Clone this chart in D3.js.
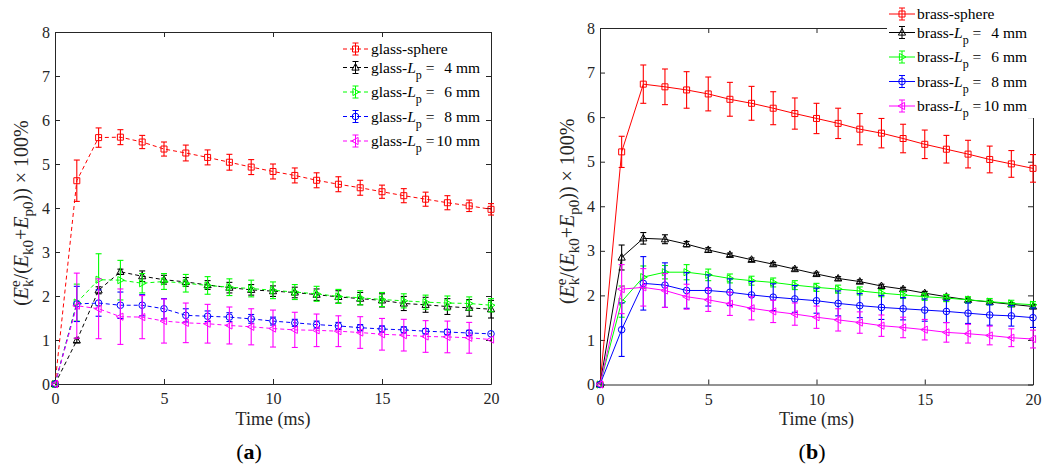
<!DOCTYPE html>
<html><head><meta charset="utf-8">
<script src="https://cdn.jsdelivr.net/npm/d3@7/dist/d3.min.js"></script>
<style>
body{margin:0;background:#fff}
svg{display:block;font-family:"Liberation Serif","Times New Roman",serif}
</style>
</head><body>
<svg id="c" width="1052" height="472"></svg>
<script>
// ---------------- DATA ----------------
const time = [0,1,2,3,4,5,6,7,8,9,10,11,12,13,14,15,16,17,18,19,20];
const xTicks = [0,5,10,15,20];
const yTicks = [0,1,2,3,4,5,6,7,8];

// (a) glass
const glassSphere    = [0,4.62,5.60,5.61,5.50,5.34,5.25,5.15,5.04,4.93,4.83,4.74,4.63,4.54,4.46,4.37,4.28,4.20,4.12,4.05,3.97];
const glassSphereErr = [0,0.47,0.22,0.17,0.15,0.16,0.18,0.17,0.18,0.17,0.17,0.17,0.17,0.17,0.17,0.15,0.16,0.16,0.16,0.13,0.13];
const glass4    = [0,0.99,2.13,2.55,2.45,2.37,2.32,2.25,2.19,2.14,2.11,2.08,2.03,1.98,1.94,1.90,1.83,1.80,1.76,1.73,1.70];
const glass4Err = [0,0.05,0.08,0.06,0.12,0.10,0.10,0.10,0.12,0.12,0.12,0.12,0.13,0.14,0.14,0.15,0.16,0.17,0.18,0.19,0.20];
const glass6    = [0,1.85,2.37,2.36,2.29,2.33,2.29,2.24,2.20,2.17,2.13,2.09,2.05,1.99,1.96,1.92,1.89,1.86,1.84,1.83,1.79];
const glass6Err = [0,0.42,0.59,0.45,0.22,0.18,0.20,0.20,0.19,0.19,0.19,0.17,0.17,0.16,0.16,0.16,0.16,0.16,0.16,0.15,0.15];
const glass8    = [0,1.82,1.84,1.79,1.79,1.71,1.56,1.54,1.52,1.48,1.43,1.39,1.35,1.32,1.28,1.25,1.23,1.20,1.18,1.16,1.14];
const glass8Err = [0,0.40,0.30,0.30,0.24,0.23,0.15,0.12,0.10,0.10,0.09,0.08,0.08,0.08,0.07,0.07,0.07,0.06,0.06,0.06,0];
const glass10    = [0,1.78,1.71,1.53,1.52,1.43,1.39,1.37,1.33,1.30,1.26,1.23,1.22,1.20,1.17,1.13,1.11,1.08,1.07,1.05,1.01];
const glass10Err = [0,0.74,0.68,0.63,0.49,0.50,0.45,0.44,0.42,0.41,0.42,0.40,0.37,0.35,0.36,0.36,0.36,0.36,0.36,0.35,0];

// (b) brass
const brassSphere    = [0,5.22,6.74,6.68,6.61,6.52,6.40,6.31,6.20,6.08,5.97,5.86,5.73,5.64,5.52,5.39,5.28,5.17,5.05,4.95,4.85];
const brassSphereErr = [0,0.35,0.43,0.40,0.41,0.38,0.38,0.38,0.37,0.35,0.34,0.34,0.35,0.33,0.32,0.32,0.31,0.31,0.30,0.30,0.31];
const brass4    = [0,2.85,3.28,3.26,3.15,3.02,2.91,2.80,2.70,2.59,2.48,2.38,2.31,2.21,2.14,2.05,1.97,1.90,1.85,1.80,1.75];
const brass4Err = [0,0.28,0.13,0.10,0.06,0.05,0.04,0.04,0.04,0.04,0.04,0.04,0.04,0.04,0.04,0.04,0.04,0.04,0.04,0.04,0.04];
const brass6    = [0,1.86,2.41,2.52,2.52,2.46,2.38,2.33,2.29,2.23,2.18,2.14,2.10,2.05,2.01,1.97,1.94,1.90,1.86,1.82,1.79];
const brass6Err = [0,0.35,0.25,0.15,0.17,0.13,0.10,0.10,0.10,0.10,0.09,0.09,0.09,0.08,0.08,0.08,0.08,0.07,0.07,0.07,0.07];
const brass8    = [0,1.23,2.27,2.23,2.11,2.11,2.07,2.01,1.96,1.92,1.88,1.82,1.77,1.73,1.70,1.67,1.64,1.60,1.56,1.54,1.50];
const brass8Err = [0,0.60,0.60,0.50,0.40,0.35,0.30,0.30,0.30,0.30,0.28,0.28,0.27,0.27,0.25,0.25,0.25,0.23,0.23,0.23,0.22];
const brass10    = [0,2.14,2.18,2.11,1.97,1.90,1.81,1.71,1.64,1.58,1.51,1.45,1.39,1.32,1.28,1.23,1.17,1.14,1.10,1.05,1.02];
const brass10Err = [0,0.55,0.42,0.38,0.28,0.26,0.26,0.26,0.25,0.25,0.25,0.25,0.24,0.24,0.23,0.23,0.22,0.21,0.21,0.20,0.20];

const seriesColors = ["#ff0000","#000000","#00ff00","#0000ff","#ff00ff"];
const markerShapes = ["square","triUp","triRight","circle","triLeft"];
const lpValues = ["4 mm","6 mm","8 mm","10 mm"];
const xLabel = "Time (ms)";

// ---------------- DRAWING ----------------
const svg = d3.select("#c");
const AX = "#262626";

function markerPath(shape){
  switch(shape){
    case "square": return "M-3,-3h6v6h-6Z";
    case "triUp": return "M0,-4L3.6,2.6L-3.6,2.6Z";
    case "triRight": return "M4,0L-2.6,-3.6L-2.6,3.6Z";
    case "triLeft": return "M-4,0L2.6,-3.6L2.6,3.6Z";
    case "circle": return "M3.3,0A3.3,3.3 0 1,1 -3.3,0A3.3,3.3 0 1,1 3.3,0Z";
  }
}

function richText(parent, pieces){
  const t = parent.append("text");
  let cur = 0, pendingDx = 0;
  pieces.forEach(p=>{
    const ts = t.append("tspan").text(p.t);
    const off = p.off || 0;
    if (off !== cur) ts.attr("dy", off - cur);
    cur = off;
    if (p.size) ts.attr("font-size", p.size);
    if (p.it) ts.attr("font-style","italic");
    if (pendingDx) ts.attr("dx", pendingDx);
    pendingDx = 0;
    if (p.stack) pendingDx = -ts.node().getComputedTextLength();
  });
  return t;
}

function panel(cfg){
  const x = d3.scaleLinear().domain([0,20]).range([cfg.x0,cfg.x1]);
  const y = d3.scaleLinear().domain([0,8]).range([cfg.y0,cfg.y1]);
  const g = svg.append("g");

  const styleAxis = (sel)=>{
    sel.select(".domain").attr("stroke",AX).attr("stroke-width",1);
    sel.selectAll(".tick line").attr("stroke",AX);
    sel.selectAll(".tick text").attr("fill",AX).attr("font-size",16)
       .attr("font-family","'Liberation Serif','Times New Roman',serif");
  };
  g.append("g").attr("transform",`translate(0,${cfg.y0})`)
    .call(d3.axisBottom(x).tickValues(xTicks).tickSizeInner(-5).tickSizeOuter(0).tickPadding(9))
    .call(styleAxis);
  g.append("g").attr("transform",`translate(0,${cfg.y1})`)
    .call(d3.axisTop(x).tickValues(xTicks).tickSizeInner(-5).tickSizeOuter(0).tickFormat(""))
    .call(styleAxis);
  g.append("g").attr("transform",`translate(${cfg.x0},0)`)
    .call(d3.axisLeft(y).tickValues(yTicks).tickSizeInner(-5).tickSizeOuter(0).tickPadding(5))
    .call(styleAxis);
  g.append("g").attr("transform",`translate(${cfg.x1},0)`)
    .call(d3.axisRight(y).tickValues(yTicks).tickSizeInner(-5).tickSizeOuter(0).tickFormat(""))
    .call(styleAxis);

  const line = d3.line().x((d,i)=>x(time[i])).y(d=>y(d));
  cfg.series.forEach((s,k)=>{
    const col = seriesColors[k];
    const sg = g.append("g");
    sg.append("path").attr("d", line(s.v)).attr("fill","none").attr("stroke",col)
      .attr("stroke-width",1).attr("stroke-dasharray", cfg.dash || null);
    const eb = sg.append("g").attr("stroke",col).attr("stroke-width",1.1);
    s.v.forEach((v,i)=>{
      const e = s.e[i];
      if (!e) return;
      const cx = x(time[i]), yt = y(v+e), yb = y(v-e);
      eb.append("line").attr("x1",cx).attr("x2",cx).attr("y1",yt).attr("y2",yb);
      eb.append("line").attr("x1",cx-3).attr("x2",cx+3).attr("y1",yt).attr("y2",yt);
      eb.append("line").attr("x1",cx-3).attr("x2",cx+3).attr("y1",yb).attr("y2",yb);
    });
    sg.selectAll("path.mk").data(s.v).enter().append("path").attr("class","mk")
      .attr("d", markerPath(markerShapes[k]))
      .attr("transform",(d,i)=>`translate(${x(time[i])},${y(d)})`)
      .attr("fill","none").attr("stroke",col).attr("stroke-width",1);
  });

  g.append("text").attr("x",(cfg.x0+cfg.x1)/2).attr("y",425).attr("text-anchor","middle")
    .attr("font-size",18).attr("fill",AX).text(xLabel);

  const yl = g.append("g").attr("transform",`translate(${cfg.ylx},${(cfg.y0+cfg.y1)/2+5}) rotate(-90)`);
  const t = richText(yl,[
    {t:"("},{t:"E",it:true},{t:"e",off:-8,size:15,stack:true},{t:"k",off:5,size:15},
    {t:"/("},{t:"E",it:true},{t:"k0",off:5,size:15},{t:"+"},{t:"E",it:true},
    {t:"p0",off:5,size:15},{t:"))"},{t:" \u00d7 100%"}
  ]);
  t.attr("text-anchor","middle").attr("font-size",20).attr("fill",AX);

  const cap = g.append("text").attr("x",cfg.capX).attr("y",459).attr("text-anchor","middle")
    .attr("font-size",22).attr("fill","#000");
  cap.append("tspan").text("(");
  cap.append("tspan").attr("font-weight","bold").text(cfg.cap);
  cap.append("tspan").text(")");

  const lg = g.append("g");
  if (cfg.legBg) lg.append("rect").attr("x",cfg.legBg[0]).attr("y",cfg.legBg[1])
      .attr("width",cfg.legBg[2]).attr("height",cfg.legBg[3]).attr("fill","#fff");
  cfg.series.forEach((s,k)=>{
    const col = seriesColors[k];
    const ly = cfg.legY0 + (k===0 ? 0 : 18.5 + (k-1)*24.5);
    const row = lg.append("g");
    row.append("line").attr("x1",cfg.legX0).attr("x2",cfg.legX1).attr("y1",ly).attr("y2",ly)
      .attr("stroke",col).attr("stroke-dasharray",cfg.dash||null);
    const mx = (cfg.legX0+cfg.legX1)/2;
    row.append("line").attr("x1",mx).attr("x2",mx).attr("y1",ly-6).attr("y2",ly+6).attr("stroke",col);
    row.append("line").attr("x1",mx-3).attr("x2",mx+3).attr("y1",ly-6).attr("y2",ly-6).attr("stroke",col);
    row.append("line").attr("x1",mx-3).attr("x2",mx+3).attr("y1",ly+6).attr("y2",ly+6).attr("stroke",col);
    row.append("path").attr("d",markerPath(markerShapes[k])).attr("transform",`translate(${mx},${ly})`)
      .attr("fill","none").attr("stroke",col);
    const tx = row.append("g").attr("transform",`translate(${cfg.legTx},${ly+5})`)
      .attr("font-size",15.5).attr("fill","#000");
    if (k===0){
      tx.append("text").text(cfg.prefix + "-sphere");
    } else {
      richText(tx,[{t:cfg.prefix+"-"},{t:"L",it:true},{t:"p",off:6,size:12},{t:" ="}]);
      tx.append("text").attr("x",cfg.legValX - cfg.legTx).attr("text-anchor","end").text(lpValues[k-1]);
    }
  });
}

panel({
  x0:55, x1:491, y0:384, y1:32, dash:"4,3", ylx:28, capX:249, cap:"a",
  prefix:"glass", legX0:343, legX1:368, legTx:371, legY0:49, legValX:480,
  series:[
    {v:glassSphere,e:glassSphereErr},{v:glass4,e:glass4Err},{v:glass6,e:glass6Err},
    {v:glass8,e:glass8Err},{v:glass10,e:glass10Err}
  ]
});
panel({
  x0:600, x1:1033, y0:384.5, y1:28, dash:null, ylx:574, capX:812, cap:"b",
  prefix:"brass", legX0:889, legX1:915, legTx:917, legY0:14, legValX:1027,
  legBg:[887,0,165,118],
  series:[
    {v:brassSphere,e:brassSphereErr},{v:brass4,e:brass4Err},{v:brass6,e:brass6Err},
    {v:brass8,e:brass8Err},{v:brass10,e:brass10Err}
  ]
});
</script>
</body></html>
